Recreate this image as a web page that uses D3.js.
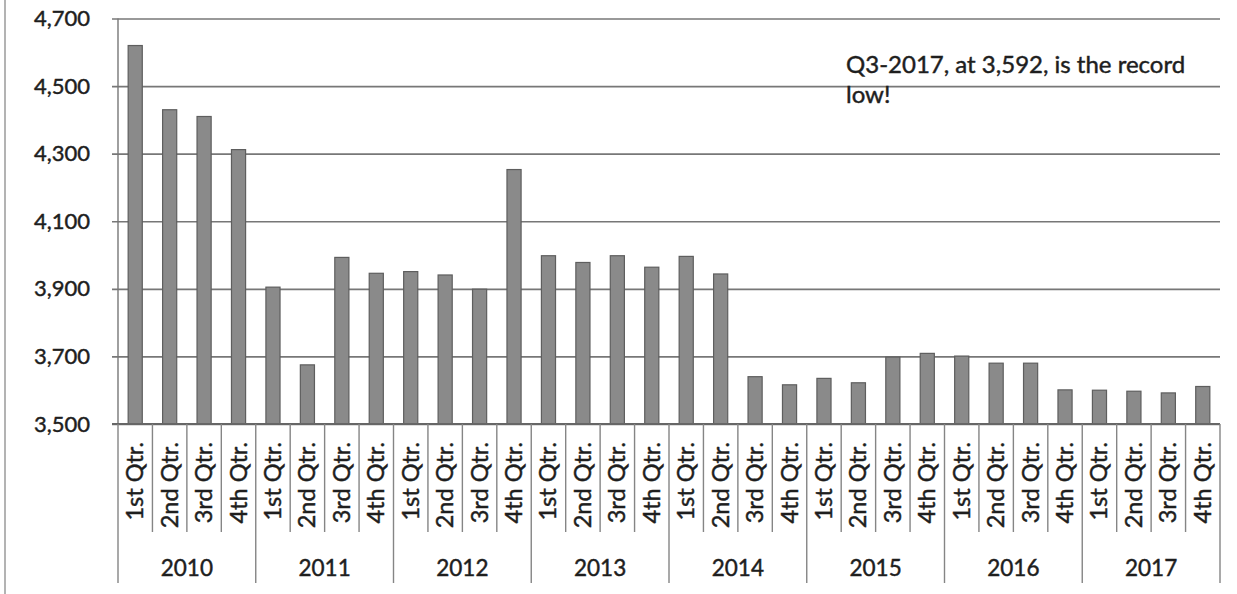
<!DOCTYPE html>
<html><head><meta charset="utf-8">
<script src="https://cdn.jsdelivr.net/npm/d3@7"></script>
<style>
html,body{margin:0;padding:0;background:#fff;}
svg text{font-family:Lato,"Noto Sans",sans-serif;fill:#1e1e1e;stroke:#1e1e1e;stroke-width:0.45px;}
</style></head>
<body>
<svg id="chart" width="1237" height="594"></svg>
<script>
const years = ["2010","2011","2012","2013","2014","2015","2016","2017"];
const quarters = ["1st Qtr.","2nd Qtr.","3rd Qtr.","4th Qtr."];
const values = [
  4620, 4430, 4410, 4312,
  3905, 3675, 3993, 3946,
  3951, 3941, 3899, 4253,
  3998, 3978, 3998, 3964,
  3996, 3944, 3640, 3616,
  3635, 3622, 3698, 3709,
  3701, 3680, 3680, 3601,
  3600, 3597, 3592, 3611
];
const yTicks = [3500, 3700, 3900, 4100, 4300, 4500, 4700];
const annotation = ["Q3-2017, at 3,592, is the record", "low!"];

const data = [];
years.forEach((yr, i) => quarters.forEach((q, j) => data.push({key: yr + "-" + q, year: yr, q: q, v: values[i * 4 + j]})));

const svg = d3.select("#chart");
const L = 118, R = 1220, T = 18.5, B = 424;

const x = d3.scaleBand().domain(data.map(d => d.key)).range([L, R]).paddingInner(0.59).paddingOuter(0.295);
const xb = d3.scaleBand().domain(data.map(d => d.key)).range([L, R]).padding(0);
const xy = d3.scaleBand().domain(years).range([L, R]).padding(0);
const y = d3.scaleLinear().domain([3500, 4700]).range([B, T]);

// outer border line at left
svg.append("line").attr("x1", 5).attr("x2", 5).attr("y1", 0).attr("y2", 594)
  .attr("stroke", "#9a9a9a").attr("stroke-width", 1.5);

// gridlines + y ticks
const yAxis = d3.axisLeft(y).tickValues(yTicks).tickSize(-(R - L)).tickFormat(d3.format(","));
const gy = svg.append("g").attr("transform", `translate(${L},0)`).call(yAxis);
gy.select(".domain").remove();
gy.selectAll(".tick line").attr("x1", -6).attr("stroke", "#777").attr("stroke-width", 1.7);
gy.selectAll(".tick text").attr("x", -28).attr("font-size", 22).attr("font-family", null).attr("fill", null);

// y axis line
svg.append("line").attr("x1", L).attr("x2", L).attr("y1", T).attr("y2", B)
  .attr("stroke", "#777").attr("stroke-width", 1.4);

// bars
svg.append("g").selectAll("rect").data(data).join("rect")
  .attr("x", d => x(d.key))
  .attr("width", x.bandwidth())
  .attr("y", d => y(d.v))
  .attr("height", d => y(3500) - y(d.v))
  .attr("fill", "#8a8a8a")
  .attr("stroke", "#5e5e5e")
  .attr("stroke-width", 1.2);

// baseline
svg.append("line").attr("x1", L - 6).attr("x2", R).attr("y1", B).attr("y2", B)
  .attr("stroke", "#666").attr("stroke-width", 1.9);

// quarter separators
const gq = svg.append("g");
data.forEach((d, i) => {
  if (i % 4 !== 0) {
    gq.append("line").attr("x1", xb(d.key)).attr("x2", xb(d.key)).attr("y1", B).attr("y2", 532)
      .attr("stroke", "#858585").attr("stroke-width", 1.4);
  }
});
// year separators
years.concat(["end"]).forEach((yr, i) => {
  const xx = i < years.length ? xy(yr) : R;
  gq.append("line").attr("x1", xx).attr("x2", xx).attr("y1", B).attr("y2", 583)
    .attr("stroke", "#858585").attr("stroke-width", 1.4);
});

// quarter labels (rotated)
svg.append("g").selectAll("text").data(data).join("text")
  .attr("transform", d => `translate(${xb(d.key) + xb.bandwidth() / 2 + 8},442) rotate(-90)`)
  .attr("text-anchor", "end")
  .attr("font-size", 23.5)
  .text(d => d.q);

// year labels
svg.append("g").selectAll("text").data(years).join("text")
  .attr("x", d => xy(d) + xy.bandwidth() / 2)
  .attr("y", 576)
  .attr("text-anchor", "middle")
  .attr("font-size", 22.5)
  .text(d => d);

// annotation
const ann = svg.append("text").attr("x", 846).attr("y", 73).attr("font-size", 24);
ann.selectAll("tspan").data(annotation).join("tspan")
  .attr("x", 846).attr("dy", (d, i) => i === 0 ? 0 : 30).text(d => d);
</script>
</body></html>
